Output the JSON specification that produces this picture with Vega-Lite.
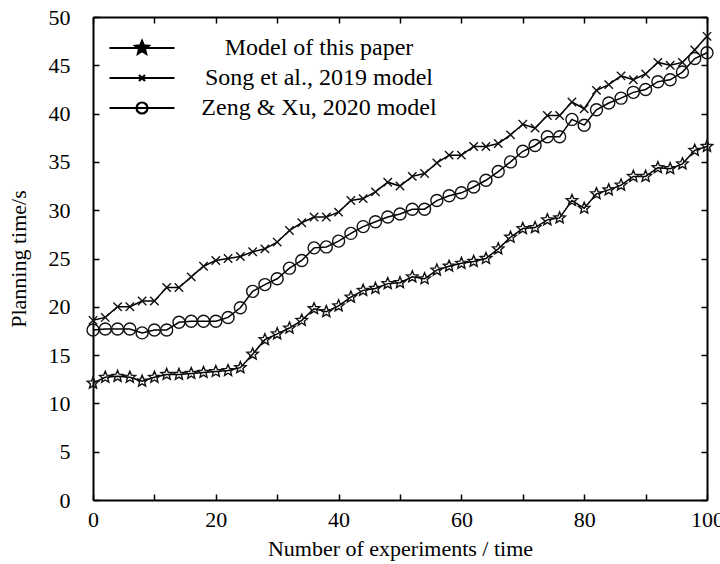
{
  "$schema": "https://vega.github.io/schema/vega-lite/v6.json",
  "width": 614,
  "height": 483,
  "autosize": {"type": "none"},
  "padding": {"left": 93, "top": 17, "right": 13, "bottom": 64},
  "background": "white",
  "config": {
    "view": {"stroke": null},
    "font": "Liberation Serif",
    "axis": {
      "labelFont": "Liberation Serif",
      "titleFont": "Liberation Serif",
      "labelFontSize": 22,
      "titleFontSize": 22,
      "titleFontWeight": "normal",
      "labelColor": "black",
      "titleColor": "black",
      "domainColor": "black",
      "tickColor": "black",
      "domainWidth": 2,
      "tickWidth": 1.5,
      "grid": false,
      "labelFlush": false
    }
  },
  "data": {
    "values": [
      {"x": 0, "m": 12.1, "s": 18.6, "z": 17.6},
      {"x": 2, "m": 12.7, "s": 18.9, "z": 17.7},
      {"x": 4, "m": 12.8, "s": 20.0, "z": 17.7},
      {"x": 6, "m": 12.7, "s": 20.0, "z": 17.7},
      {"x": 8, "m": 12.3, "s": 20.6, "z": 17.3},
      {"x": 10, "m": 12.7, "s": 20.6, "z": 17.6},
      {"x": 12, "m": 13.0, "s": 22.0, "z": 17.6},
      {"x": 14, "m": 13.0, "s": 22.0, "z": 18.4},
      {"x": 16, "m": 13.1, "s": 23.1, "z": 18.5},
      {"x": 18, "m": 13.2, "s": 24.2, "z": 18.5},
      {"x": 20, "m": 13.3, "s": 24.8, "z": 18.5},
      {"x": 22, "m": 13.4, "s": 25.0, "z": 18.9},
      {"x": 24, "m": 13.7, "s": 25.2, "z": 19.9},
      {"x": 26, "m": 15.1, "s": 25.7, "z": 21.6},
      {"x": 28, "m": 16.6, "s": 26.0, "z": 22.3},
      {"x": 30, "m": 17.2, "s": 26.7, "z": 22.9},
      {"x": 32, "m": 17.8, "s": 27.9, "z": 24.0},
      {"x": 34, "m": 18.6, "s": 28.7, "z": 24.8},
      {"x": 36, "m": 19.8, "s": 29.3, "z": 26.1},
      {"x": 38, "m": 19.5, "s": 29.3, "z": 26.2},
      {"x": 40, "m": 20.1, "s": 29.8, "z": 26.8},
      {"x": 42, "m": 21.0, "s": 31.0, "z": 27.6},
      {"x": 44, "m": 21.7, "s": 31.2, "z": 28.3},
      {"x": 46, "m": 21.9, "s": 31.9, "z": 28.8},
      {"x": 48, "m": 22.4, "s": 32.9, "z": 29.3},
      {"x": 50, "m": 22.5, "s": 32.5, "z": 29.6},
      {"x": 52, "m": 23.1, "s": 33.5, "z": 30.1},
      {"x": 54, "m": 22.9, "s": 33.8, "z": 30.1},
      {"x": 56, "m": 23.8, "s": 34.9, "z": 31.0},
      {"x": 58, "m": 24.2, "s": 35.7, "z": 31.5},
      {"x": 60, "m": 24.5, "s": 35.7, "z": 31.8},
      {"x": 62, "m": 24.7, "s": 36.6, "z": 32.4},
      {"x": 64, "m": 25.0, "s": 36.6, "z": 33.1},
      {"x": 66, "m": 26.0, "s": 36.9, "z": 34.0},
      {"x": 68, "m": 27.2, "s": 37.8, "z": 35.0},
      {"x": 70, "m": 28.1, "s": 38.9, "z": 36.1},
      {"x": 72, "m": 28.2, "s": 38.5, "z": 36.7},
      {"x": 74, "m": 29.0, "s": 39.8, "z": 37.6},
      {"x": 76, "m": 29.2, "s": 39.8, "z": 37.6},
      {"x": 78, "m": 31.0, "s": 41.2, "z": 39.4},
      {"x": 80, "m": 30.2, "s": 40.5, "z": 38.8},
      {"x": 82, "m": 31.7, "s": 42.4, "z": 40.4},
      {"x": 84, "m": 32.1, "s": 43.0, "z": 41.1},
      {"x": 86, "m": 32.6, "s": 43.9, "z": 41.6},
      {"x": 88, "m": 33.5, "s": 43.5, "z": 42.2},
      {"x": 90, "m": 33.5, "s": 44.1, "z": 42.5},
      {"x": 92, "m": 34.4, "s": 45.3, "z": 43.3},
      {"x": 94, "m": 34.3, "s": 45.0, "z": 43.5},
      {"x": 96, "m": 34.8, "s": 45.3, "z": 44.3},
      {"x": 98, "m": 36.2, "s": 46.6, "z": 45.7},
      {"x": 100, "m": 36.6, "s": 48.0, "z": 46.3}
    ]
  },
  "transform": [{"fold": ["m", "s", "z"], "as": ["series", "y"]}],
  "layer": [
    {
      "mark": {"type": "line", "stroke": "black", "strokeWidth": 1.5},
      "encoding": {
        "x": {
          "field": "x", "type": "quantitative",
          "scale": {"domain": [0, 100], "nice": false, "zero": false},
          "axis": {
            "orient": "bottom",
            "values": [0, 10, 20, 30, 40, 50, 60, 70, 80, 90, 100],
            "labelExpr": "datum.value % 20 === 0 ? datum.label : ''",
            "tickSize": -6,
            "labelPadding": 15,
            "title": "Number of experiments / time",
            "titlePadding": 8
          }
        },
        "y": {
          "field": "y", "type": "quantitative",
          "scale": {"domain": [0, 50], "nice": false},
          "axis": {
            "orient": "left",
            "values": [0, 5, 10, 15, 20, 25, 30, 35, 40, 45, 50],
            "tickSize": -6,
            "labelPadding": 29,
            "title": "Planning time/s",
            "titlePadding": 18
          }
        },
        "detail": {"field": "series"}
      }
    },
    {
      "mark": {"type": "point", "filled": false, "stroke": "#111", "strokeWidth": 1.4, "size": 144, "opacity": 1},
      "encoding": {
        "x": {"field": "x", "type": "quantitative", "axis": null},
        "y": {"field": "y", "type": "quantitative", "axis": null},
        "shape": {
          "field": "series", "type": "nominal",
          "scale": {
            "domain": ["m", "s", "z"],
            "range": [
              "M0,-1L0.264,-0.364L0.951,-0.309L0.428,0.139L0.588,0.809L0,0.45L-0.588,0.809L-0.428,0.139L-0.951,-0.309L-0.264,-0.364Z",
              "M-0.7,-0.7L0.7,0.7M-0.7,0.7L0.7,-0.7",
              "circle"
            ]
          },
          "legend": null
        }
      }
    },
    {
      "mark": {"type": "point", "filled": false, "opacity": 0, "stroke": "black", "strokeWidth": 2.2},
      "encoding": {
        "x": {"field": "x", "type": "quantitative", "axis": null},
        "y": {"field": "y", "type": "quantitative", "axis": null},
        "shape": {
          "field": "series", "type": "nominal",
          "scale": {
            "domain": ["m", "s", "z"],
            "range": [
              "M-6.5,0H6.5M0,-1.4L0.37,-0.51L1.33,-0.433L0.6,0.195L0.823,1.133L0,0.63L-0.823,1.133L-0.6,0.195L-1.33,-0.433L-0.37,-0.51ZM0,-0.8L0.21,-0.29L0.76,-0.25L0.34,0.11L0.47,0.65L0,0.36L-0.47,0.65L-0.34,0.11L-0.76,-0.25L-0.21,-0.29ZM0.3,0A0.3,0.3,0,1,1,-0.3,0A0.3,0.3,0,1,1,0.3,0Z",
              "M-6.5,0H6.5M-0.6,-0.6L0.6,0.6M-0.6,0.6L0.6,-0.6",
              "M-6.5,0H6.5M1.1,0A1.1,1.1,0,1,1,-1.1,0A1.1,1.1,0,1,1,1.1,0Z"
            ]
          },
          "legend": {
            "orient": "none",
            "legendX": 37,
            "legendY": 19,
            "title": null,
            "labelExpr": "datum.value === 'm' ? 'Model of this paper' : datum.value === 's' ? 'Song et al., 2019 model' : 'Zeng & Xu, 2020 model'",
            "labelAlign": "center",
            "labelOffset": 165,
            "labelLimit": 400,
            "labelFontSize": 24,
            "labelFont": "Liberation Serif",
            "labelColor": "black",
            "symbolOpacity": 1,
            "symbolStrokeWidth": 2.2,
            "symbolStrokeColor": "black",
            "symbolSize": 100,
            "rowPadding": 6
          }
        }
      }
    },
    {
      "mark": {"type": "point", "opacity": 0},
      "encoding": {
        "x": {
          "field": "x", "type": "quantitative",
          "axis": {"orient": "top", "values": [0, 10, 20, 30, 40, 50, 60, 70, 80, 90, 100], "labels": false, "tickSize": -6, "title": null}
        },
        "y": {
          "field": "y", "type": "quantitative",
          "axis": {"orient": "right", "values": [0, 5, 10, 15, 20, 25, 30, 35, 40, 45, 50], "labels": false, "tickSize": -6, "title": null}
        }
      }
    }
  ],
  "resolve": {
    "axis": {"x": "independent", "y": "independent"},
    "scale": {"shape": "independent"}
  }
}
